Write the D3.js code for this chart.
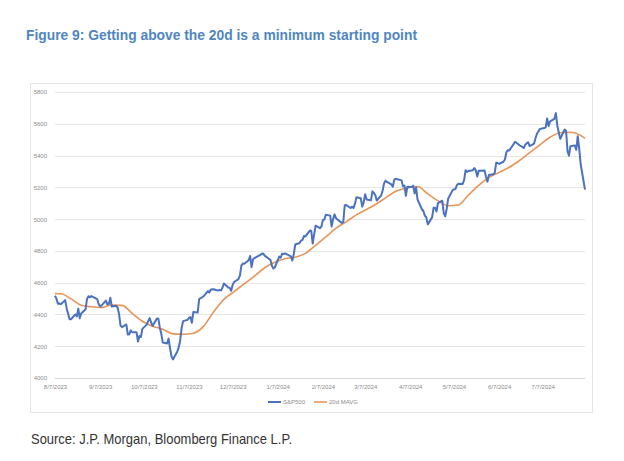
<!DOCTYPE html>
<html><head><meta charset="utf-8">
<script src="https://cdn.jsdelivr.net/npm/d3@7"></script>
<style>body{margin:0;background:#fff}svg{display:block}</style>
</head><body>
<script>
const titleText = "Figure 9: Getting above the 20d is a minimum starting point";
const sourceText = "Source: J.P. Morgan, Bloomberg Finance L.P.";
const seriesNames = ["S&P500", "20d MAVG"];
const yTicks = [4000, 4200, 4400, 4600, 4800, 5000, 5200, 5400, 5600, 5800];
const xTickDates = ["2023-08-07","2023-09-07","2023-10-07","2023-11-07","2023-12-07","2024-01-07","2024-02-07","2024-03-07","2024-04-07","2024-05-07","2024-06-07","2024-07-07"];
const xTickLabels = ["8/7/2023","9/7/2023","10/7/2023","11/7/2023","12/7/2023","1/7/2024","2/7/2024","3/7/2024","4/7/2024","5/7/2024","6/7/2024","7/7/2024"];

const spDates = [
"2023-08-07","2023-08-08","2023-08-09","2023-08-10","2023-08-11","2023-08-14","2023-08-15","2023-08-16","2023-08-17","2023-08-18",
"2023-08-21","2023-08-22","2023-08-23","2023-08-24","2023-08-25","2023-08-28","2023-08-29","2023-08-30","2023-08-31","2023-09-01",
"2023-09-05","2023-09-06","2023-09-07","2023-09-08","2023-09-11","2023-09-12","2023-09-13","2023-09-14","2023-09-15",
"2023-09-18","2023-09-19","2023-09-20","2023-09-21","2023-09-22","2023-09-25","2023-09-26","2023-09-27","2023-09-28","2023-09-29",
"2023-10-02","2023-10-03","2023-10-04","2023-10-05","2023-10-06","2023-10-09","2023-10-10","2023-10-11","2023-10-12","2023-10-13",
"2023-10-16","2023-10-17","2023-10-18","2023-10-19","2023-10-20","2023-10-23","2023-10-24","2023-10-25","2023-10-26","2023-10-27",
"2023-10-30","2023-10-31","2023-11-01","2023-11-02","2023-11-03","2023-11-06","2023-11-07","2023-11-08","2023-11-09","2023-11-10",
"2023-11-13","2023-11-14","2023-11-15","2023-11-16","2023-11-17","2023-11-20","2023-11-21","2023-11-22","2023-11-24",
"2023-11-27","2023-11-28","2023-11-29","2023-11-30","2023-12-01","2023-12-04","2023-12-05","2023-12-06","2023-12-07","2023-12-08",
"2023-12-11","2023-12-12","2023-12-13","2023-12-14","2023-12-15","2023-12-18","2023-12-19","2023-12-20","2023-12-21","2023-12-22",
"2023-12-26","2023-12-27","2023-12-28","2023-12-29","2024-01-02","2024-01-03","2024-01-04","2024-01-05",
"2024-01-08","2024-01-09","2024-01-10","2024-01-11","2024-01-12","2024-01-16","2024-01-17","2024-01-18","2024-01-19",
"2024-01-22","2024-01-23","2024-01-24","2024-01-25","2024-01-26","2024-01-29","2024-01-30","2024-01-31","2024-02-01","2024-02-02",
"2024-02-05","2024-02-06","2024-02-07","2024-02-08","2024-02-09","2024-02-12","2024-02-13","2024-02-14","2024-02-15","2024-02-16",
"2024-02-20","2024-02-21","2024-02-22","2024-02-23","2024-02-26","2024-02-27","2024-02-28","2024-02-29","2024-03-01",
"2024-03-04","2024-03-05","2024-03-06","2024-03-07","2024-03-08","2024-03-11","2024-03-12","2024-03-13","2024-03-14","2024-03-15",
"2024-03-18","2024-03-19","2024-03-20","2024-03-21","2024-03-22","2024-03-25","2024-03-26","2024-03-27","2024-03-28",
"2024-04-01","2024-04-02","2024-04-03","2024-04-04","2024-04-05","2024-04-08","2024-04-09","2024-04-10","2024-04-11","2024-04-12",
"2024-04-15","2024-04-16","2024-04-17","2024-04-18","2024-04-19","2024-04-22","2024-04-23","2024-04-24","2024-04-25","2024-04-26",
"2024-04-29","2024-04-30","2024-05-01","2024-05-02","2024-05-03","2024-05-06","2024-05-07","2024-05-08","2024-05-09","2024-05-10",
"2024-05-13","2024-05-14","2024-05-15","2024-05-16","2024-05-17","2024-05-20","2024-05-21","2024-05-22","2024-05-23","2024-05-24",
"2024-05-28","2024-05-29","2024-05-30","2024-05-31","2024-06-03","2024-06-04","2024-06-05","2024-06-06","2024-06-07",
"2024-06-10","2024-06-11","2024-06-12","2024-06-13","2024-06-14","2024-06-17","2024-06-18","2024-06-20","2024-06-21",
"2024-06-24","2024-06-25","2024-06-26","2024-06-27","2024-06-28","2024-07-01","2024-07-02","2024-07-03","2024-07-05",
"2024-07-08","2024-07-09","2024-07-10","2024-07-11","2024-07-12","2024-07-15","2024-07-16","2024-07-17","2024-07-18","2024-07-19",
"2024-07-22","2024-07-23","2024-07-24","2024-07-25","2024-07-26","2024-07-29","2024-07-30","2024-07-31","2024-08-01","2024-08-02",
"2024-08-05"];
const spValues = [
4518,4499,4468,4469,4464,4490,4438,4404,4370,4370,
4400,4388,4436,4376,4406,4433,4498,4515,4508,4516,
4497,4465,4451,4457,4487,4462,4467,4505,4450,
4454,4444,4402,4330,4320,4337,4274,4275,4300,4288,
4288,4229,4264,4258,4309,4336,4358,4377,4350,4328,
4374,4373,4315,4278,4224,4217,4248,4187,4137,4117,
4167,4194,4238,4318,4358,4366,4378,4383,4347,4415,
4412,4496,4503,4508,4514,4547,4538,4557,4559,
4550,4555,4551,4568,4595,4570,4567,4549,4586,4604,
4622,4644,4707,4720,4719,4741,4768,4698,4747,4755,
4775,4782,4783,4770,4743,4705,4689,4697,
4764,4757,4783,4780,4784,4766,4739,4781,4840,
4850,4865,4869,4894,4891,4928,4925,4846,4906,4959,
4943,4954,4995,4998,5027,5022,4953,5001,5030,5006,
4976,4982,5087,5089,5070,5078,5070,5096,5137,
5131,5079,5105,5157,5124,5118,5175,5165,5150,5117,
5149,5179,5225,5242,5234,5218,5204,5248,5254,
5244,5206,5211,5147,5204,5202,5210,5161,5199,5123,
5062,5051,5022,5011,4967,5011,5071,5072,5048,5100,
5116,5036,5018,5064,5128,5181,5188,5188,5214,5223,
5221,5247,5308,5297,5303,5308,5321,5307,5268,5305,
5306,5267,5235,5278,5283,5291,5354,5353,5347,
5361,5375,5421,5434,5432,5473,5487,5473,5465,
5448,5469,5478,5483,5460,5475,5509,5537,5567,
5573,5577,5634,5585,5615,5631,5667,5588,5545,5505,
5564,5556,5427,5399,5459,5464,5436,5522,5447,5347,
5186];

const maDates = ["2023-08-07","2023-08-11","2023-08-18","2023-08-25","2023-09-01","2023-09-08","2023-09-15","2023-09-22","2023-09-29",
"2023-10-06","2023-10-13","2023-10-20","2023-10-27","2023-11-03","2023-11-10","2023-11-17","2023-11-24","2023-12-01","2023-12-08",
"2023-12-15","2023-12-22","2023-12-29","2024-01-05","2024-01-12","2024-01-19","2024-01-26","2024-02-02","2024-02-09","2024-02-16",
"2024-02-23","2024-03-01","2024-03-08","2024-03-15","2024-03-22","2024-03-28","2024-04-05","2024-04-12","2024-04-19","2024-04-26",
"2024-05-03","2024-05-10","2024-05-17","2024-05-24","2024-05-31","2024-06-07","2024-06-14","2024-06-21","2024-06-28","2024-07-05",
"2024-07-12","2024-07-19","2024-07-26","2024-08-02","2024-08-05"];
const maValues = [4531,4530,4498,4458,4448,4444,4459,4457,4407,
4357,4326,4307,4278,4275,4282,4325,4417,4495,4544,
4593,4641,4694,4728,4750,4760,4784,4835,4888,4943,
4983,5027,5061,5097,5140,5175,5196,5205,5159,5116,
5084,5089,5152,5212,5262,5294,5326,5369,5418,5467,
5515,5544,5547,5527,5508];

const W = 624, H = 461;
const svg = d3.select("body").append("svg").attr("width", W).attr("height", H);

svg.append("text").attr("x", 26).attr("y", 40)
  .attr("font-family", "'Liberation Sans Narrow','Arial Narrow','Liberation Sans',Arial,sans-serif")
  .attr("font-weight", "bold").attr("font-size", 15).attr("fill", "#4f86c1")
  .attr("textLength", 391).attr("lengthAdjust", "spacingAndGlyphs")
  .text(titleText);

// chart frame
svg.append("rect").attr("x", 30.5).attr("y", 83.5).attr("width", 562).attr("height", 329)
  .attr("fill", "#fff").attr("stroke", "#e4e4e4").attr("stroke-width", 1);

const parse = d3.timeParse("%Y-%m-%d");
const x = d3.scaleTime().domain([parse("2023-08-07"), parse("2024-08-05")]).range([55, 585]);
const y = d3.scaleLinear().domain([4000, 5800]).range([378, 92]);

// gridlines
svg.append("g").selectAll("line").data(yTicks.filter(d => d > 4000)).join("line")
  .attr("x1", 55).attr("x2", 585)
  .attr("y1", d => Math.round(y(d)) + 0.5).attr("y2", d => Math.round(y(d)) + 0.5)
  .attr("stroke", "#e6e6e6").attr("stroke-width", 1);

// y axis labels
const yAxis = d3.axisLeft(y).tickValues(yTicks).tickSize(0).tickPadding(8).tickFormat(d3.format("d"));
const gy = svg.append("g").attr("transform", "translate(55,0)").call(yAxis);
gy.select(".domain").remove();
gy.selectAll("text").attr("font-family", "'Liberation Sans',Arial,sans-serif").attr("font-size", 6).attr("fill", "#8c8c8c");

// x axis
const xAxis = d3.axisBottom(x).tickValues(xTickDates.map(parse)).tickSize(0).tickPadding(6)
  .tickFormat((d, i) => xTickLabels[i]);
const gx = svg.append("g").attr("transform", `translate(0,${Math.round(y(4000)) + 0.5})`).call(xAxis);
gx.select(".domain").remove();
gx.append("line").attr("x1", 55).attr("x2", 585).attr("stroke", "#d9d9d9");
gx.selectAll("text").attr("font-family", "'Liberation Sans',Arial,sans-serif").attr("font-size", 6).attr("fill", "#8c8c8c");

// lines
const spData = spDates.map((d, i) => ({ date: parse(d), v: spValues[i] }));
const maData = maDates.map((d, i) => ({ date: parse(d), v: maValues[i] }));
const lineSp = d3.line().x(d => x(d.date)).y(d => y(d.v));
const lineMa = d3.line().x(d => x(d.date)).y(d => y(d.v)).curve(d3.curveMonotoneX);

svg.append("path").datum(maData).attr("d", lineMa).attr("fill", "none")
  .attr("stroke", "#e8955a").attr("stroke-width", 1.6).attr("stroke-linejoin", "round");
svg.append("path").datum(spData).attr("d", lineSp).attr("fill", "none")
  .attr("stroke", "#4a72c0").attr("stroke-width", 2).attr("stroke-linejoin", "round");

// legend
const legend = [
  { name: seriesNames[0], color: "#4a72c0", x: 268, w: 2 },
  { name: seriesNames[1], color: "#e8955a", x: 314, w: 1.6 }
];
const lg = svg.append("g");
legend.forEach(l => {
  lg.append("line").attr("x1", l.x).attr("x2", l.x + 13).attr("y1", 402).attr("y2", 402)
    .attr("stroke", l.color).attr("stroke-width", l.w);
  lg.append("text").attr("x", l.x + 15).attr("y", 404).attr("font-size", 6)
    .attr("font-family", "'Liberation Sans',Arial,sans-serif").attr("fill", "#8c8c8c").text(l.name);
});

svg.append("text").attr("x", 31).attr("y", 444)
  .attr("font-family", "'Liberation Sans Narrow','Arial Narrow','Liberation Sans',Arial,sans-serif")
  .attr("font-size", 15).attr("fill", "#333")
  .attr("textLength", 261).attr("lengthAdjust", "spacingAndGlyphs")
  .text(sourceText);
</script>
</body></html>
